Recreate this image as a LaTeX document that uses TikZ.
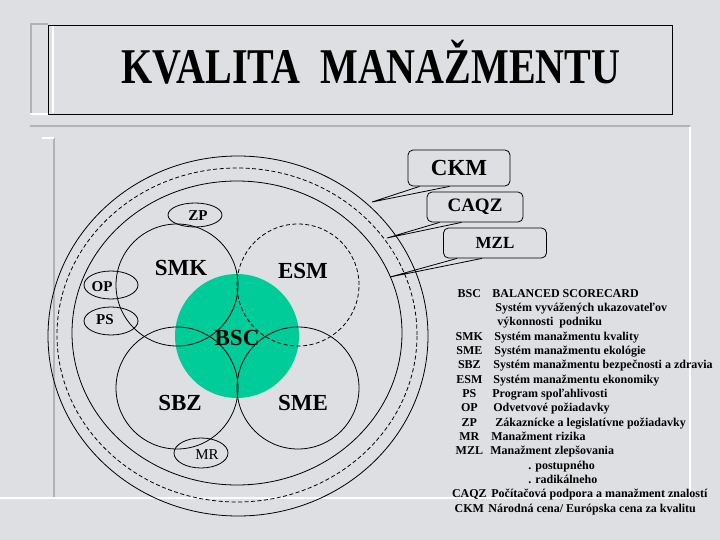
\documentclass[tikz,border=0pt]{standalone}
\usepackage{fontspec}
\setmainfont{Liberation Serif}
\definecolor{marble}{RGB}{222,223,226}
\definecolor{bscgreen}{RGB}{0,204,153}
\definecolor{ramgray}{RGB}{178,178,180}

\begin{document}
\begin{tikzpicture}[x=1pt, y=-1pt, line width=0.8pt,
  dsh/.style={dash pattern=on 4pt off 2.5pt},
  velke/.style={font=\fontsize{23}{23}\selectfont\bfseries, inner sep=0pt},
  male/.style={font=\fontsize{15}{15}\selectfont\bfseries, inner sep=0pt},
  ramik/.style={draw, rounded corners=5pt, inner sep=0pt, font=\bfseries}]
% 背景
\fill[marble] (0,0) rectangle (720,540);
\useasboundingbox (0,0) rectangle (720,540);

% 标题框
\draw[ramgray, line width=2.5pt] (31,114) -- (31,24) -- (48,24);
\draw[white, line width=2pt] (53,25) -- (53,113);
\draw[white, line width=2pt] (30,114) -- (48,114);
\draw (48,25) rectangle (672,114);
\node[anchor=base, font=\fontsize{50}{50}\selectfont\bfseries, inner sep=0pt] (nadpis) at (371,84)
  {\scalebox{0.8}[1]{KVALITA\ \ MANAŽMENTU}};

% 下面的框
\draw[ramgray, line width=2pt] (30,126) -- (690,126);
\draw[ramgray, line width=2pt] (54,138) -- (54,498);
\draw[white, line width=2pt] (42,138) -- (54,138);
\draw[white, line width=2pt] (690,127) -- (690,498) -- (0,498);

% 大圆
\draw (238,336) ellipse (190pt and 180pt);
\draw[dsh] (237,335) ellipse (180pt and 167pt);
\draw (237,333) ellipse (165pt and 152pt);

% BSC
\fill[bscgreen] (237,336) circle (62pt);

% 四个圆
\draw (177,285) circle (61pt);
\draw[dsh] (298,285) circle (61pt);
\draw (177,388) circle (61pt);
\draw (298,388) circle (61pt);

% 小椭圆
\draw (195,215) ellipse (27pt and 12pt);
\draw (111,285) ellipse (27pt and 14pt);
\draw (111,321) ellipse (27pt and 14pt);
\draw (201,453) ellipse (27pt and 15pt);

\node[velke] (smk) at (181,268) {SMK};
\node[velke] (esm) at (303,271) {ESM};
\node[velke] (bsc) at (237,338) {BSC};
\node[velke] (sbz) at (180,403) {SBZ};
\node[velke] (sme) at (303,403) {SME};
\node[male] (zp) at (198,216) {ZP};
\node[male] (op) at (102,287) {OP};
\node[male] (ps) at (105,320) {PS};
\node[male, font=\fontsize{15}{15}\selectfont] (mr) at (207,455) {MR};

% 标注框
\node[ramik, minimum width=102pt, minimum height=36pt, font=\fontsize{23}{23}\selectfont\bfseries] (ckm) at (459,168) {CKM};
\node[ramik, minimum width=96pt, minimum height=30pt, font=\fontsize{19}{19}\selectfont\bfseries] (caqz) at (475,207) {CAQZ};
\node[ramik, minimum width=103pt, minimum height=30pt, font=\fontsize{17}{17}\selectfont\bfseries] (mzl) at (495,243) {MZL};

\coordinate (ckmhrot) at (372,202);
\coordinate (caqzhrot) at (387,238);
\coordinate (mzlhrot) at (390,277);
\draw ([xshift=12pt]ckm.south west) -- (ckmhrot) -- ([xshift=42pt]ckm.south west);
\draw ([xshift=13pt]caqz.south west) -- (caqzhrot) -- ([xshift=35pt]caqz.south west);
\draw ([xshift=14pt]mzl.south west) -- (mzlhrot) -- ([xshift=39pt]mzl.south west);

% 说明文字
\node[anchor=base west, inner sep=0pt, font=\fontsize{12}{14.35}\selectfont\bfseries] (legenda) at (452,297) {%
\begin{tabular}[t]{@{}l@{}}
\makebox[34pt]{BSC}\hspace{6pt}BALANCED SCORECARD\\
\hspace*{43pt}Systém vyvážených ukazovateľov\\
\hspace*{45pt}výkonnosti\ \ podniku\\
\makebox[34pt]{SMK}\hspace{8pt}Systém manažmentu kvality\\
\makebox[34pt]{SME}\hspace{8pt}Systém manažmentu ekológie\\
\makebox[34pt]{SBZ}\hspace{7pt}Systém manažmentu bezpečnosti a zdravia\\
\makebox[34pt]{ESM}\hspace{7pt}Systém manažmentu ekonomiky\\
\makebox[34pt]{PS}\hspace{6pt}Program spoľahlivosti\\
\makebox[34pt]{OP}\hspace{7pt}Odvetvové požiadavky\\
\makebox[34pt]{ZP}\hspace{9pt}Zákaznícke a legislatívne požiadavky\\
\makebox[34pt]{MR}\hspace{5pt}Manažment rizika\\
\makebox[34pt]{MZL}\hspace{4pt}Manažment zlepšovania\\
\hspace*{76pt}. postupného\\
\hspace*{76pt}. radikálneho\\
\makebox[34pt]{CAQZ}\hspace{5pt}Počítačová podpora a manažment znalostí\\
\makebox[34pt]{CKM}\hspace{2pt}Národná cena/ Európska cena za kvalitu
\end{tabular}};
\end{tikzpicture}
\end{document}
